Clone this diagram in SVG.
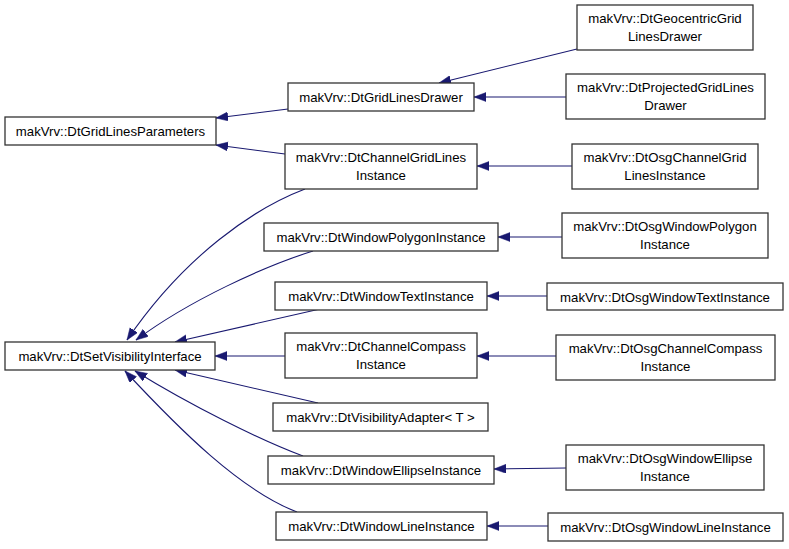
<svg xmlns="http://www.w3.org/2000/svg" width="789" height="549" viewBox="0 0 789 549">
<defs>
<style>
.n rect{fill:#ffffff;stroke:#333333;stroke-width:1.3}
.n text{font-family:"Liberation Sans",Arial,sans-serif;font-size:13.2px;fill:#000000;text-anchor:middle}
.e path{fill:none;stroke:#191970;stroke-width:1.1;marker-end:url(#ah)}
</style>
<marker id="ah" markerUnits="userSpaceOnUse" markerWidth="14" markerHeight="11" refX="12" refY="4.5" orient="auto">
<path d="M0,0 L12,4.5 L0,9 z" fill="#191970" stroke="#191970" stroke-width="0.5"/>
</marker>
</defs>
<rect width="789" height="549" fill="#ffffff"/>
<g id="edges" class="e">
<path d="M288,109 L216,118"/>
<path d="M285,154 L216,145"/>
<path d="M577,49 L439,83"/>
<path d="M566,97 L474,97"/>
<path d="M572,166 L477,166"/>
<path d="M562,237 L498,237"/>
<path d="M547,296 L487,296"/>
<path d="M556,356 L477,356"/>
<path d="M566,468 L494,469"/>
<path d="M548,526 L487,526"/>
<path d="M305,189 C255,208 185,255 127,340"/>
<path d="M313,251 C265,266 190,300 136,340"/>
<path d="M320,309 L175,342"/>
<path d="M285,356 L215,356"/>
<path d="M318,403 L175,370"/>
<path d="M303,456 C260,440 190,405 135,371"/>
<path d="M297,512 C240,490 180,430 125,371"/>
</g>
<g id="n_GridLinesParameters" class="n"><rect x="5" y="117" width="211" height="28"/><text x="110.5" y="136">makVrv::DtGridLinesParameters</text></g>
<g id="n_SetVisibilityInterface" class="n"><rect x="5" y="342" width="210" height="28"/><text x="110" y="361">makVrv::DtSetVisibilityInterface</text></g>
<g id="n_GridLinesDrawer" class="n"><rect x="288" y="83" width="186" height="28"/><text x="381" y="102">makVrv::DtGridLinesDrawer</text></g>
<g id="n_ChannelGridLinesInstance" class="n"><rect x="285" y="144" width="192" height="45"/><text x="381" y="161.5">makVrv::DtChannelGridLines</text><text x="381" y="180">Instance</text></g>
<g id="n_WindowPolygonInstance" class="n"><rect x="264" y="223" width="234" height="28"/><text x="381" y="242">makVrv::DtWindowPolygonInstance</text></g>
<g id="n_WindowTextInstance" class="n"><rect x="275" y="282" width="212" height="28"/><text x="381" y="301">makVrv::DtWindowTextInstance</text></g>
<g id="n_ChannelCompassInstance" class="n"><rect x="285" y="333" width="192" height="45"/><text x="381" y="350.5">makVrv::DtChannelCompass</text><text x="381" y="369">Instance</text></g>
<g id="n_VisibilityAdapter" class="n"><rect x="273" y="403" width="215" height="28"/><text x="380.5" y="422">makVrv::DtVisibilityAdapter&lt; T &gt;</text></g>
<g id="n_WindowEllipseInstance" class="n"><rect x="268" y="456" width="226" height="28"/><text x="381" y="475">makVrv::DtWindowEllipseInstance</text></g>
<g id="n_WindowLineInstance" class="n"><rect x="276" y="512" width="211" height="28"/><text x="381.5" y="531">makVrv::DtWindowLineInstance</text></g>
<g id="n_GeocentricGridLinesDrawer" class="n"><rect x="577" y="5" width="176" height="45"/><text x="665" y="22.5">makVrv::DtGeocentricGrid</text><text x="665" y="41">LinesDrawer</text></g>
<g id="n_ProjectedGridLinesDrawer" class="n"><rect x="566" y="74" width="199" height="45"/><text x="665.5" y="91.5">makVrv::DtProjectedGridLines</text><text x="665.5" y="110">Drawer</text></g>
<g id="n_OsgChannelGridLinesInstance" class="n"><rect x="572" y="144" width="186" height="45"/><text x="665" y="161.5">makVrv::DtOsgChannelGrid</text><text x="665" y="180">LinesInstance</text></g>
<g id="n_OsgWindowPolygonInstance" class="n"><rect x="562" y="213" width="206" height="45"/><text x="665" y="230.5">makVrv::DtOsgWindowPolygon</text><text x="665" y="249">Instance</text></g>
<g id="n_OsgWindowTextInstance" class="n"><rect x="547" y="283" width="236" height="27"/><text x="665" y="301.5">makVrv::DtOsgWindowTextInstance</text></g>
<g id="n_OsgChannelCompassInstance" class="n"><rect x="556" y="335" width="219" height="45"/><text x="665.5" y="352.5">makVrv::DtOsgChannelCompass</text><text x="665.5" y="371">Instance</text></g>
<g id="n_OsgWindowEllipseInstance" class="n"><rect x="566" y="445" width="198" height="45"/><text x="665" y="462.5">makVrv::DtOsgWindowEllipse</text><text x="665" y="481">Instance</text></g>
<g id="n_OsgWindowLineInstance" class="n"><rect x="548" y="513" width="235" height="28"/><text x="665.5" y="532">makVrv::DtOsgWindowLineInstance</text></g>
</svg>
